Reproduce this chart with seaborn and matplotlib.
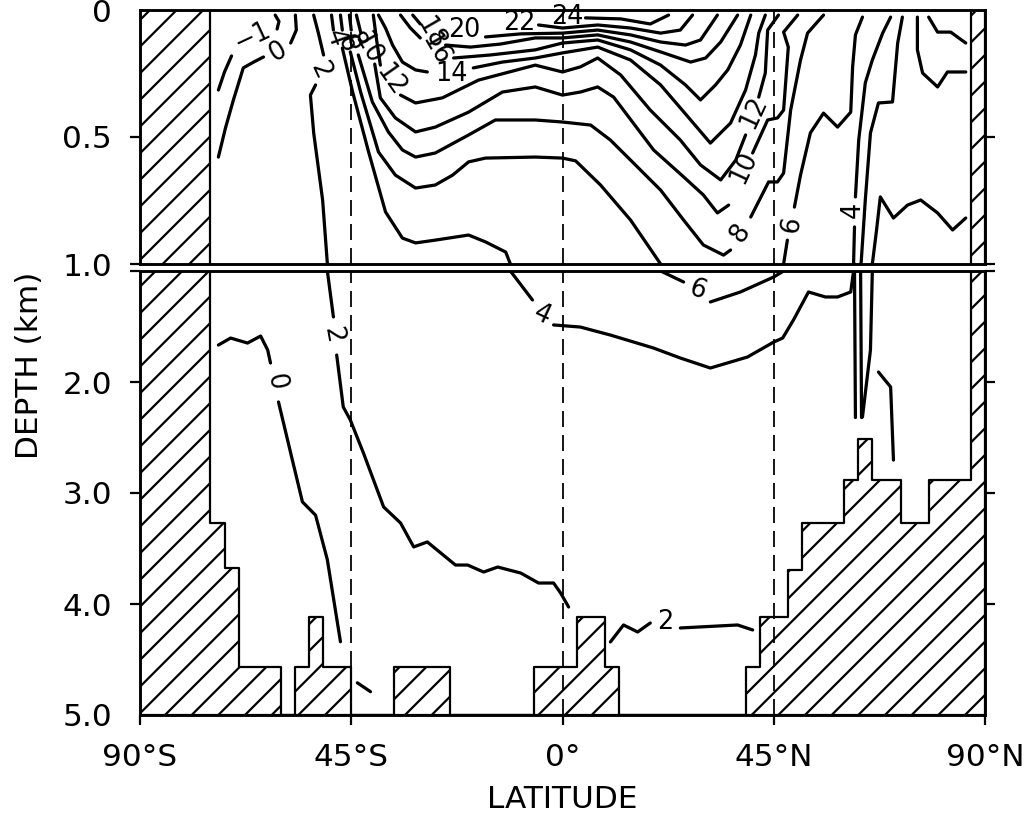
import numpy as np
import pandas as pd
import matplotlib
matplotlib.use("Agg")
import matplotlib.pyplot as plt
import seaborn as sns

# ---------------- data ----------------
lat_ticks = [-90, -45, 0, 45, 90]
lat_tick_labels = ["90°S", "45°S", "0°", "45°N", "90°N"]
depth_ticks_upper = [0.0, 0.5, 1.0]
depth_labels_upper = ["0", "0.5", "1.0"]
depth_ticks_lower = [1.0, 2.0, 3.0, 4.0, 5.0]
depth_labels_lower = ["", "2.0", "3.0", "4.0", "5.0"]
meridians = [-45, 0, 45]

# bottom topography (model grid cells): cell edges in latitude, top depth of land (km)
topo_edges = [-90, -75, -72, -69, -60, -57, -54, -51, -45, -36, -24, -6, 3, 9, 12,
              39, 42, 48, 51, 60, 63, 66, 72, 78, 87, 90]
topo_top = [0.0, 3.27, 3.68, 4.57, 5.0, 4.57, 4.12, 4.57, 5.0, 4.57, 5.0, 4.57, 4.12,
            4.57, 5.0, 4.57, 4.12, 3.69, 3.27, 2.88, 2.51, 2.88, 3.27, 2.88, 0.0]

# isotherms: segments of (latitude, depth km); labels (latitude, depth, rotation)
iso_m1 = [[(-73.3, 0.315), (-72.0, 0.244), (-70.5, 0.181)],
          [(-61.2, 0.02), (-60.4, 0.045), (-60.8, 0.075)]]
lab_m1 = [(-66.0, 0.106, 25)]

iso_0 = [[(-73.3, 0.579), (-71.8, 0.465), (-70.1, 0.354), (-68.0, 0.228), (-65.8, 0.205), (-63.7, 0.185)],
         [(-57.9, 0.130), (-56.7, 0.079), (-56.9, 0.020)],
         [(-73.3, 1.667), (-70.7, 1.604), (-67.1, 1.649), (-64.3, 1.586), (-62.8, 1.712), (-62.2, 1.829)],
         [(-60.5, 2.18), (-57.9, 2.64), (-55.4, 3.08), (-52.6, 3.20), (-50.1, 3.60), (-47.3, 4.34)],
         [(-43.7, 4.71), (-40.9, 4.79)]]
lab_0 = [(-60.7, 0.165, 30), (-61.2, 2.0, -80)]

iso_2 = [[(-53.0, 0.020), (-52.0, 0.091), (-50.9, 0.177)],
         [(-52.6, 0.295), (-53.7, 0.335), (-53.0, 0.484), (-51.1, 0.748), (-50.1, 0.996), (-48.8, 1.414)],
         [(-48.1, 1.757), (-46.7, 2.225), (-45.2, 2.342), (-42.4, 2.640), (-38.1, 3.126), (-34.5, 3.270),
          (-31.7, 3.486), (-28.8, 3.441), (-22.8, 3.649), (-20.2, 3.649), (-16.8, 3.712), (-13.8, 3.667),
          (-8.9, 3.721), (-5.1, 3.811), (-1.9, 3.811), (-0.4, 3.901), (1.3, 4.027)],
         [(10.2, 4.342), (13.0, 4.189), (16.0, 4.252), (18.7, 4.171)],
         [(25.1, 4.216), (37.3, 4.189), (40.5, 4.234)]]
lab_2 = [(-51.6, 0.236, -65), (-49.0, 1.577, -80), (21.9, 4.162, 0)]

iso_4 = [[(-49.2, 0.020), (-48.8, 0.079)],
         [(-46.9, 0.150), (-44.7, 0.323), (-41.3, 0.559), (-37.7, 0.795), (-34.1, 0.898), (-31.3, 0.917),
          (-27.1, 0.906), (-20.0, 0.886), (-16.4, 0.913), (-12.1, 0.953), (-11.1, 1.0), (-6.4, 1.261)],
         [(-1.9, 1.486), (3.8, 1.505), (10.2, 1.577), (19.4, 1.694), (25.1, 1.784), (31.5, 1.874),
          (39.4, 1.775), (45.0, 1.640), (46.9, 1.604), (49.2, 1.441), (52.4, 1.189), (56.0, 1.234),
          (58.6, 1.234), (61.4, 1.189), (62.0, 1.0), (62.2, 0.854)],
         [(62.4, 0.736), (63.1, 0.512), (64.5, 0.287), (66.0, 0.197), (68.2, 0.091), (69.9, 0.028)]]
lab_4 = [(-48.4, 0.110, -70), (-4.3, 1.396, -25), (61.8, 0.787, 90)]

iso_6 = [[(-47.3, 0.020), (-46.9, 0.079)],
         [(-45.2, 0.165), (-43.0, 0.323), (-39.2, 0.559), (-35.6, 0.650), (-31.3, 0.701), (-27.1, 0.689),
          (-23.4, 0.650), (-20.0, 0.598), (-16.4, 0.583), (-5.8, 0.579), (0.0, 0.583), (2.8, 0.594),
          (8.1, 0.689), (14.5, 0.827), (20.9, 1.0), (25.8, 1.099)],
         [(31.5, 1.279), (37.9, 1.189), (45.0, 1.054), (47.1, 1.0), (47.9, 0.906)],
         [(49.4, 0.776), (50.7, 0.650), (52.8, 0.484), (55.6, 0.406), (58.6, 0.461), (61.4, 0.402),
          (61.8, 0.224), (62.4, 0.098), (63.9, 0.028)]]
lab_6 = [(-46.0, 0.134, -60), (28.8, 1.171, -20), (48.8, 0.846, 80)]

iso_8 = [[(-45.4, 0.020), (-45.0, 0.079)],
         [(-43.5, 0.177), (-40.5, 0.362), (-37.1, 0.480), (-34.1, 0.551), (-31.3, 0.579), (-27.1, 0.563),
          (-20.0, 0.492), (-14.3, 0.433), (-5.8, 0.433), (0.0, 0.441), (6.0, 0.453), (10.2, 0.512),
          (14.5, 0.591), (20.9, 0.709), (25.8, 0.827), (30.0, 0.925), (34.3, 0.965), (35.8, 0.945)],
         [(40.1, 0.815), (43.9, 0.677), (45.8, 0.677), (47.1, 0.642), (48.6, 0.394), (50.7, 0.197),
          (52.2, 0.091), (55.6, 0.020)]]
lab_8 = [(-44.3, 0.126, -60), (37.9, 0.878, 55)]

iso_10 = [[(-43.9, 0.020), (-43.0, 0.087)],
          [(-40.0, 0.213), (-38.8, 0.346), (-35.6, 0.425), (-31.3, 0.480), (-27.1, 0.461), (-20.0, 0.402),
           (-12.8, 0.323), (-5.8, 0.303), (0.0, 0.335), (3.8, 0.323), (7.5, 0.303), (10.9, 0.343),
           (19.4, 0.551), (25.8, 0.657), (30.0, 0.728), (33.0, 0.799), (35.4, 0.768)],
          [(40.5, 0.563), (43.7, 0.433), (45.8, 0.425), (47.1, 0.394), (48.1, 0.146), (47.1, 0.087),
           (50.1, 0.020)]]
lab_10 = [(-41.5, 0.150, -60), (38.6, 0.618, 65)]

iso_12 = [[(-40.3, 0.020), (-39.6, 0.118), (-38.8, 0.217)],
          [(-34.5, 0.335), (-31.3, 0.366), (-25.6, 0.346), (-17.9, 0.276), (-5.8, 0.217), (0.0, 0.244),
           (3.8, 0.224), (7.5, 0.189), (12.4, 0.256), (18.7, 0.394), (25.1, 0.512), (29.4, 0.610),
           (33.7, 0.669), (36.9, 0.591), (39.0, 0.492)],
          [(41.8, 0.343), (43.2, 0.248), (43.7, 0.079), (46.0, 0.020)]]
lab_12 = [(-36.6, 0.276, -55), (40.7, 0.402, 65)]

iso_14 = [[(-39.2, 0.020), (-37.7, 0.071), (-36.2, 0.138), (-34.1, 0.205), (-31.3, 0.236), (-28.8, 0.244)],
          [(-19.0, 0.228), (-12.8, 0.205), (-5.8, 0.189), (0.0, 0.169), (7.5, 0.146), (14.5, 0.197),
           (20.9, 0.295), (27.3, 0.433), (31.5, 0.524), (35.8, 0.445), (39.0, 0.315), (41.1, 0.177),
           (41.8, 0.091), (43.2, 0.020)]]
lab_14 = [(-23.6, 0.252, 0)]

iso_16 = [[(-34.5, 0.020), (-32.4, 0.071), (-30.3, 0.110)],
          [(-23.2, 0.189), (-15.3, 0.177), (-5.8, 0.157), (0.0, 0.130), (7.5, 0.118), (14.5, 0.157),
           (20.9, 0.217), (26.2, 0.295), (29.4, 0.354), (32.6, 0.295), (35.2, 0.236), (37.9, 0.138),
           (40.1, 0.020)]]
lab_16 = [(-27.1, 0.157, -60)]

iso_18 = [[(-31.9, 0.020), (-30.3, 0.055)],
          [(-24.9, 0.138), (-19.6, 0.146), (-13.2, 0.134), (-5.8, 0.110), (0.0, 0.110), (7.5, 0.098),
           (14.5, 0.126), (20.9, 0.165), (27.3, 0.205), (30.5, 0.189), (33.7, 0.126), (37.3, 0.020)]]
lab_18 = [(-28.1, 0.091, -60)]

iso_20 = [[(-16.4, 0.106), (-8.9, 0.094), (0.0, 0.091), (7.5, 0.079), (14.5, 0.098), (20.9, 0.126),
           (26.2, 0.138), (29.4, 0.118), (33.0, 0.020)]]
lab_20 = [(-20.9, 0.079, 0)]

iso_22 = [[(-5.1, 0.059), (0.0, 0.071), (7.5, 0.059), (14.5, 0.071), (20.9, 0.091), (25.1, 0.079),
           (27.7, 0.020)]]
lab_22 = [(-9.2, 0.051, 0)]

iso_24 = [[(4.9, 0.031), (12.4, 0.035), (18.7, 0.055), (22.6, 0.020)]]
lab_24 = [(1.0, 0.026, 0)]

# unlabeled isotherm pieces in the Arctic / northern sinking region
iso_north = [[(63.6, 1.0), (64.5, 0.748), (65.6, 0.484), (67.3, 0.366), (70.3, 0.362), (71.4, 0.130), (72.4, 0.028)],
             [(66.0, 1.0), (66.9, 0.866), (67.7, 0.736), (70.5, 0.819), (73.5, 0.768), (76.3, 0.748),
              (79.9, 0.799), (83.1, 0.866), (85.9, 0.819)],
             [(75.6, 0.028), (75.6, 0.157), (76.7, 0.248), (79.9, 0.303), (82.0, 0.244), (85.9, 0.244)],
             [(78.0, 0.028), (79.9, 0.087), (82.7, 0.087), (85.9, 0.130)],
             [(62.2, 1.0), (62.4, 2.32)],
             [(63.5, 1.0), (63.7, 2.32)],
             [(66.0, 1.0), (65.6, 1.712), (63.9, 2.315)],
             [(67.3, 1.910), (69.9, 2.045), (70.5, 2.703)]]

isotherms = [(-1, iso_m1, lab_m1), (0, iso_0, lab_0), (2, iso_2, lab_2), (4, iso_4, lab_4),
             (6, iso_6, lab_6), (8, iso_8, lab_8), (10, iso_10, lab_10), (12, iso_12, lab_12),
             (14, iso_14, lab_14), (16, iso_16, lab_16), (18, iso_18, lab_18), (20, iso_20, lab_20),
             (22, iso_22, lab_22), (24, iso_24, lab_24), (None, iso_north, [])]

# ---------------- build table ----------------
rows = []
sid = 0
for val, segs, _ in isotherms:
    for seg in segs:
        for k, (la, de) in enumerate(seg):
            rows.append({"seg": sid, "order": k, "lat": la, "depth": de})
        sid += 1
df = pd.DataFrame(rows)

# ---------------- style ----------------
sns.set_style("white")
plt.rcParams["font.family"] = ["DejaVu Sans"]
plt.rcParams["text.color"] = "black"
plt.rcParams["xtick.color"] = "black"
plt.rcParams["ytick.color"] = "black"
plt.rcParams["xtick.labelcolor"] = "black"
plt.rcParams["ytick.labelcolor"] = "black"
plt.rcParams["hatch.linewidth"] = 2.0
plt.rcParams["hatch.color"] = "black"
plt.rcParams["lines.solid_joinstyle"] = "round"
plt.rcParams["lines.solid_capstyle"] = "round"

DPI = 80
fig = plt.figure(figsize=(1026 / DPI, 823 / DPI), dpi=DPI)
L, W = 140 / 1026, 845 / 1026
ax_top = fig.add_axes([L, 1 - 264 / 823, W, 254 / 823])
ax_bot = fig.add_axes([L, 1 - 715 / 823, W, 444 / 823])

fill_y = np.append(topo_top, topo_top[-1])
for ax in (ax_top, ax_bot):
    coll = ax.fill_between(topo_edges, fill_y, 5.0, step="post", facecolor="white",
                           edgecolor="black", hatch="/", linewidth=2.0, zorder=2)
    if hasattr(coll, "set_hatch_linewidth"):
        coll.set_hatch_linewidth(2.0)
    for m in meridians:
        ax.axvline(m, color="black", lw=1.6, linestyle=(0, (9, 4.5)), zorder=3)
    sns.lineplot(data=df, x="lat", y="depth", units="seg", estimator=None, sort=False,
                 color="black", linewidth=2.9, ax=ax, legend=False, zorder=4)
    ax.set_xlim(-90, 90)
    ax.set_xlabel("")
    ax.set_ylabel("")
    for sp in ax.spines.values():
        sp.set_visible(True)
        sp.set_linewidth(2.6)
        sp.set_color("black")
        sp.set_zorder(6)

ax_top.set_ylim(1.0, 0.0)
ax_bot.set_ylim(5.0, 1.0)

# contour labels
for val, segs, labs in isotherms:
    for la, de, rot in labs:
        txt = "\u22121" if val == -1 else str(val)
        ax = ax_top if de <= 1.0 else ax_bot
        ax.text(la, de, txt, rotation=rot, rotation_mode="anchor", ha="center", va="center",
                fontsize=23, color="black", zorder=5)

# ticks
ax_top.set_yticks(depth_ticks_upper)
ax_top.set_yticklabels(depth_labels_upper)
ax_top.set_xticks([])
ax_top.tick_params(axis="y", direction="out", length=9, width=2.0, left=True, right=True,
                   labelleft=True, labelright=False, labelsize=28, pad=16, color="black")
t0 = ax_top.yaxis.get_major_ticks()[0]
t0.tick1line.set_visible(False)
t0.tick2line.set_visible(False)

ax_bot.set_yticks(depth_ticks_lower)
ax_bot.set_yticklabels(depth_labels_lower)
ax_bot.tick_params(axis="y", direction="out", length=9, width=2.0, left=True, right=True,
                   labelleft=True, labelright=False, labelsize=28, pad=16, color="black")
t5 = ax_bot.yaxis.get_major_ticks()[-1]
t5.tick1line.set_visible(False)
t5.tick2line.set_visible(False)
ax_bot.set_xticks(lat_ticks)
ax_bot.set_xticklabels(lat_tick_labels)
ax_bot.tick_params(axis="x", direction="out", length=9, width=2.0, bottom=True, top=False,
                   labelsize=28, pad=16, color="black")

fig.text(562 / 1026, 1 - 800 / 823, "LATITUDE", ha="center", va="center", fontsize=28, color="black")
fig.text(30 / 1026, 1 - 365 / 823, "DEPTH (km)", rotation=90, ha="center", va="center",
         fontsize=28, color="black")

fig.savefig("out.png", dpi=DPI, facecolor="white")
